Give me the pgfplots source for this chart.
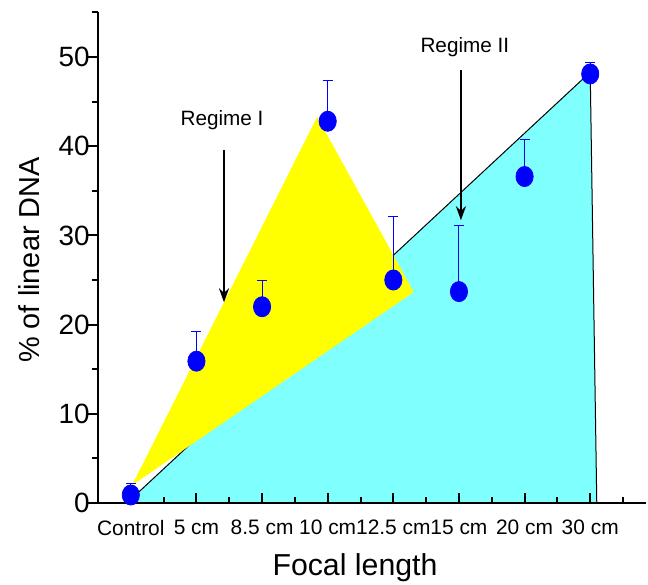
\documentclass[border=0pt]{standalone}
\usepackage{fontspec}
\setmainfont{Liberation Sans}
\usepackage{pgfplots}
\pgfplotsset{compat=1.18}
\usetikzlibrary{arrows.meta}
\definecolor{cyanfill}{RGB}{128,255,255}
\definecolor{yel}{RGB}{255,255,0}
\definecolor{dotblue}{RGB}{0,0,255}
\begin{document}
\begin{tikzpicture}
\path[use as bounding box] (-49bp,-41bp) rectangle (275bp,251.5bp);
\begin{axis}[
  at={(0,0)}, anchor=south west,
  scale only axis, width=274bp, height=245.3bp,
  xmin=-0.5, xmax=7.85, ymin=0, ymax=55,
  axis x line*=bottom, axis y line*=left,
  axis line style={-, line width=1bp},
  axis on top, clip=false,
  xtick={0,...,7},
  xticklabels={Control,5 cm,8.5 cm,10 cm,12.5 cm,15 cm,20 cm,30 cm},
  minor xtick={0.5,1.5,...,7.5},
  ytick={0,10,...,50}, minor ytick={5,15,...,55},
  tick align=outside,
  major tick length=5bp, minor tick length=3bp,
  tick style={line width=1bp, black},
  major x tick style={yshift=5bp}, minor x tick style={yshift=3bp},
  /pgf/number format/assume math mode=true,
  xticklabel style={font=\fontsize{10.5}{12}\selectfont},
  yticklabel style={font=\fontsize{14}{16}\selectfont, xshift=4.3bp},
]
\addplot[draw=black, line width=0.5bp, fill=cyanfill, mark=none, forget plot]
  coordinates {(0,0) (0,0.4) (7,48.3) (7.1,0)} -- cycle;
\addplot[fill=yel, draw=none, mark=none, forget plot]
  coordinates {(0.02,2.0) (2.84,43.3) (4.31,23.65)} -- cycle;
\addplot[only marks, mark=*, mark size=4.3bp,
  mark options={fill=dotblue, draw=dotblue, yscale=1.17},
  error bars/.cd, y dir=plus, y explicit,
  error bar style={dotblue, line width=0.5bp},
  error mark options={rotate=90, dotblue, mark size=2.5bp, line width=0.5bp}]
  table[x=x, y=y, y error=e] {
x y e
0 0.9 1.3
1 15.9 3.3
2 22.0 2.9
3 42.8 4.6
4 25.0 7.1
5 23.7 7.4
6 36.6 4.1
7 48.1 1.3
};
\draw[-{Stealth[length=7bp,width=5bp]}, line width=1.3bp] (axis cs:1.42,39.6) -- (axis cs:1.42,22.5);
\node[font=\fontsize{10.4}{12}\selectfont] at (axis cs:1.39,42.9) {Regime I};
\draw[-{Stealth[length=7bp,width=5bp]}, line width=1.3bp] (axis cs:5.03,48.5) -- (axis cs:5.03,31.7);
\node[font=\fontsize{10.4}{12}\selectfont] at (axis cs:5.09,51.1) {Regime II};
\end{axis}
\node[rotate=90, font=\fontsize{14.5}{17}\selectfont] at (-34.5bp,121.5bp) {\% of linear DNA};
\node[font=\fontsize{15.2}{18}\selectfont] at (128.5bp,-32.5bp) {Focal length};
\end{tikzpicture}
\end{document}
